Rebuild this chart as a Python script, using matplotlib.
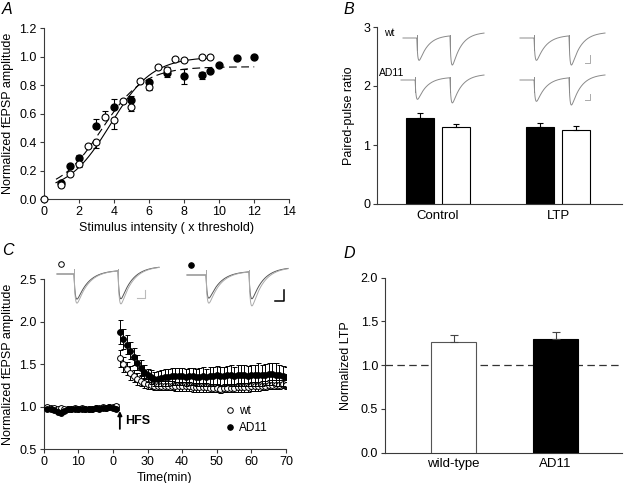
import numpy as np
import matplotlib
matplotlib.use("Agg")
import matplotlib.pyplot as plt

plt.rcParams['font.family'] = ['Liberation Sans', 'DejaVu Sans']

# ---------------- Panel A data ----------------
wt_int = [0, 1, 1.5, 2, 2.5, 3, 3.5, 4, 4.5, 5, 5.5, 6, 6.5, 7, 7.5, 8, 9, 9.5]
wt_amp = [0.0, 0.10, 0.18, 0.245, 0.375, 0.40, 0.575, 0.555, 0.69, 0.648, 0.828, 0.786,
          0.93, 0.905, 0.982, 0.975, 1.0, 1.0]
wt_amp_lo = [0, 0.01, 0, 0.02, 0, 0.04, 0, 0.06, 0, 0.03, 0, 0.02, 0, 0, 0, 0, 0, 0]
wt_amp_hi = [0, 0, 0, 0, 0, 0, 0.045, 0, 0, 0, 0.015, 0, 0, 0.02, 0, 0, 0, 0]
ad_int = [1, 1.5, 2, 3, 4, 5, 6, 7, 8, 9, 9.5, 10, 11, 12]
ad_amp = [0.115, 0.235, 0.288, 0.512, 0.650, 0.695, 0.82, 0.885, 0.862, 0.872, 0.90, 0.94, 0.995, 1.0]
ad_amp_lo = [0, 0, 0, 0, 0, 0, 0, 0.03, 0.05, 0.025, 0, 0, 0, 0]
ad_amp_hi = [0, 0, 0.02, 0.05, 0.055, 0.03, 0.01, 0, 0.05, 0.02, 0, 0, 0, 0]
# Boltzmann fits: bottom, top, midpoint, slope, x-start, x-end
wt_fit = [0.05, 1.00, 3.8, 1.2, 0.7, 9.5]
ad_fit = [0.05, 0.93, 3.3, 1.2, 0.7, 12.0]

# ---------------- Panel B data ----------------
ppr_groups = ['Control', 'LTP']
ppr_ad11 = [1.45, 1.31]
ppr_ad11_err = [0.09, 0.07]
ppr_wt = [1.31, 1.26]
ppr_wt_err = [0.05, 0.06]

# ---------------- Panel C data ----------------
t_base = list(range(1, 22))
wt_base = [1.00, 0.99, 0.99, 0.98, 0.99, 0.98, 0.98, 0.98, 0.99, 0.98, 0.99, 0.98, 0.97, 0.98,
           0.99, 0.99, 1.00, 0.99, 1.00, 1.00, 1.01]
wt_base_err = [0.02, 0.02, 0.02, 0.02, 0.02, 0.02, 0.02, 0.02, 0.02, 0.02, 0.02, 0.02, 0.02, 0.02,
               0.02, 0.02, 0.02, 0.02, 0.02, 0.02, 0.02]
ad_base = [0.98, 0.97, 0.96, 0.94, 0.93, 0.95, 0.97, 0.97, 0.98, 0.98, 0.97, 0.98, 0.98, 0.98,
           0.99, 0.98, 0.99, 0.99, 1.00, 0.99, 0.98]
ad_base_err = [0.02, 0.02, 0.02, 0.02, 0.02, 0.02, 0.02, 0.02, 0.02, 0.02, 0.02, 0.02, 0.02, 0.02,
               0.02, 0.02, 0.02, 0.02, 0.02, 0.02, 0.02]
t_post = list(range(22, 71))
wt_post = [1.57, 1.50, 1.45, 1.40, 1.36, 1.33, 1.30, 1.28, 1.27, 1.26,
           1.25, 1.25, 1.25, 1.25, 1.25, 1.25, 1.24, 1.24, 1.24, 1.24,
           1.24, 1.23, 1.23, 1.23, 1.23, 1.23, 1.22, 1.22, 1.22, 1.21,
           1.22, 1.22, 1.22, 1.22, 1.23, 1.23, 1.23, 1.23, 1.24, 1.24,
           1.24, 1.25, 1.25, 1.26, 1.26, 1.26, 1.26, 1.27, 1.26]
wt_post_err = [0.10, 0.09, 0.08, 0.08, 0.07, 0.07, 0.06, 0.06, 0.06, 0.05,
               0.05, 0.05, 0.05, 0.05, 0.05, 0.05, 0.05, 0.05, 0.05, 0.05,
               0.05, 0.05, 0.05, 0.05, 0.05, 0.05, 0.05, 0.05, 0.05, 0.05,
               0.05, 0.05, 0.05, 0.05, 0.05, 0.05, 0.05, 0.05, 0.05, 0.05,
               0.05, 0.05, 0.05, 0.05, 0.05, 0.05, 0.05, 0.05, 0.05]
ad_post = [1.88, 1.80, 1.73, 1.66, 1.59, 1.52, 1.46, 1.41, 1.37, 1.35,
           1.33, 1.33, 1.34, 1.35, 1.35, 1.36, 1.36, 1.36, 1.36, 1.35,
           1.36, 1.36, 1.35, 1.35, 1.36, 1.35, 1.36, 1.36, 1.37, 1.36,
           1.36, 1.37, 1.37, 1.36, 1.37, 1.37, 1.37, 1.36, 1.37, 1.37,
           1.38, 1.37, 1.38, 1.39, 1.39, 1.38, 1.37, 1.36, 1.35]
ad_post_err = [0.14, 0.12, 0.11, 0.10, 0.10, 0.09, 0.09, 0.08, 0.08, 0.08,
               0.08, 0.09, 0.09, 0.10, 0.10, 0.10, 0.10, 0.10, 0.10, 0.10,
               0.10, 0.10, 0.10, 0.11, 0.11, 0.10, 0.11, 0.11, 0.11, 0.11,
               0.11, 0.11, 0.12, 0.11, 0.12, 0.12, 0.12, 0.12, 0.12, 0.12,
               0.13, 0.12, 0.12, 0.13, 0.13, 0.13, 0.12, 0.12, 0.12]
c_xticklabels = ['0', '10', '0', '30', '40', '50', '60', '70']

# ---------------- Panel D data ----------------
ltp_groups = ['wild-type', 'AD11']
ltp_vals = [1.27, 1.30]
ltp_err = [0.07, 0.085]

# trace illustration amplitudes (px): [first, second] dips
trB_amps = {'wt_ctrl': [23, 30], 'wt_ltp': [23, 30], 'ad_ctrl': [20, 26], 'ad_ltp': [22, 28]}
trC_amps = {'wt_pre': [26, 29], 'wt_post': [30, 34], 'ad_pre': [24, 28], 'ad_post': [29, 35]}

W, H = 624, 483
fig = plt.figure(figsize=(W / 100, H / 100), dpi=100)
AX = '#3a3a3a'
TICK = 9
LAB = 9


def px_axes(l, t, r, b):
    return fig.add_axes([l / W, 1 - b / H, (r - l) / W, (b - t) / H])


def style(ax):
    for s in ['top', 'right']:
        ax.spines[s].set_visible(False)
    for s in ['left', 'bottom']:
        ax.spines[s].set_color(AX)
        ax.spines[s].set_linewidth(0.8)
    ax.tick_params(direction='out', length=3, width=0.8, color=AX, labelsize=TICK, pad=2)


# ---------------- Panel A ----------------
axA = px_axes(43.7, 28.3, 289.3, 199.3)
style(axA)
for fit, ls in [(wt_fit, '-'), (ad_fit, (0, (7, 4)))]:
    xx = np.linspace(fit[4], fit[5], 200)
    yy = fit[1] + (fit[0] - fit[1]) / (1 + np.exp((xx - fit[2]) / fit[3]))
    axA.plot(xx, yy, color='black', lw=0.8, ls=ls, zorder=2)
axA.errorbar(ad_int, ad_amp, yerr=[ad_amp_lo, ad_amp_hi], fmt='o', ms=5, mfc='black', mec='black',
             ecolor='black', elinewidth=0.8, capsize=2.5, capthick=0.8, zorder=3, clip_on=False)
axA.errorbar(wt_int, wt_amp, yerr=[wt_amp_lo, wt_amp_hi], fmt='o', ms=5, mfc='white', mec='black',
             mew=0.8, ecolor='black', elinewidth=0.8, capsize=2.5, capthick=0.8, zorder=4, clip_on=False)
axA.set_xlim(0, 14)
axA.set_ylim(0, 1.2)
axA.set_xticks(range(0, 15, 2))
axA.set_yticks(np.arange(0, 1.21, 0.2))
axA.set_yticklabels([f'{v:.1f}' for v in np.arange(0, 1.21, 0.2)])
axA.set_xlabel('Stimulus intensity ( x threshold)', fontsize=LAB, labelpad=3)
axA.set_ylabel('Normalized fEPSP amplitude', fontsize=LAB, labelpad=4)

# ---------------- Panel B ----------------
axB = px_axes(377, 27, 622, 204)
style(axB)
pos = np.arange(len(ppr_groups))
off, bw = 0.15, 0.233
axB.bar(pos - off, ppr_ad11, bw, color='black', edgecolor='black', lw=0.8,
        yerr=[[0, 0], ppr_ad11_err], error_kw=dict(ecolor='black', elinewidth=0.8, capsize=2.5, capthick=0.8))
axB.bar(pos + off, ppr_wt, bw, color='white', edgecolor='black', lw=0.8,
        yerr=[[0, 0], ppr_wt_err], error_kw=dict(ecolor='black', elinewidth=0.8, capsize=2.5, capthick=0.8))
axB.set_xlim(-0.508, 1.533)
axB.set_ylim(0, 3)
axB.set_yticks([0, 1, 2, 3])
axB.set_xticks(pos)
axB.set_xticklabels(ppr_groups, fontsize=LAB + 0.5)
axB.tick_params(axis='x', length=0, pad=4)
axB.set_ylabel('Paired-pulse ratio', fontsize=LAB, labelpad=6)

# ---------------- Panel C ----------------
axC = px_axes(43.7, 279.3, 286, 449.3)
style(axC)
ekw = dict(elinewidth=0.7, capsize=1.8, capthick=0.7, ecolor='black')
axC.errorbar(t_base, wt_base, yerr=wt_base_err, fmt='o', ms=4.2, mfc='white', mec='black', mew=0.7, zorder=3, **ekw)
axC.errorbar(t_post, wt_post, yerr=wt_post_err, fmt='o', ms=4.2, mfc='white', mec='black', mew=0.7, zorder=3, **ekw)
axC.errorbar(t_base, ad_base, yerr=ad_base_err, fmt='o', ms=4.2, mfc='black', mec='black', mew=0.7, zorder=4, **ekw)
axC.errorbar(t_post, ad_post, yerr=ad_post_err, fmt='o', ms=4.2, mfc='black', mec='black', mew=0.7, zorder=4, **ekw)
axC.set_xlim(0, 70)
axC.set_ylim(0.5, 2.5)
axC.set_xticks(range(0, 71, 10))
axC.set_xticklabels(c_xticklabels)
axC.set_yticks([0.5, 1.0, 1.5, 2.0, 2.5])
axC.set_yticklabels(['0.5', '1.0', '1.5', '2.0', '2.5'])
axC.set_xlabel('Time(min)', fontsize=LAB, labelpad=3)
axC.set_ylabel('Normalized fEPSP amplitude', fontsize=LAB, labelpad=4)
axC.annotate('', xy=(22, 0.95), xytext=(22, 0.74),
             arrowprops=dict(arrowstyle='-|>', color='black', lw=1.3, mutation_scale=6, shrinkA=0, shrinkB=0))
axC.text(23.6, 0.835, 'HFS', fontsize=9, fontweight='bold', va='center', ha='left')
h1, = axC.plot([], [], 'o', ms=4, mfc='white', mec='black', mew=0.7)
h2, = axC.plot([], [], 'o', ms=4, mfc='black', mec='black', mew=0.7)
axC.legend([h1, h2], ['wt', 'AD11'], loc='upper left', bbox_to_anchor=(0.755, 0.262), frameon=False,
           fontsize=8.5, handlelength=0.6, handletextpad=0.45, labelspacing=0.45, borderpad=0,
           borderaxespad=0)

# ---------------- Panel D ----------------
axD = px_axes(385, 277.7, 622, 452.7)
style(axD)
posD = np.arange(len(ltp_groups))
axD.bar(posD, ltp_vals, 0.44, color=['white', 'black'], edgecolor=['#555555', 'black'], lw=0.8,
        yerr=[[0, 0], ltp_err], error_kw=dict(ecolor='#444444', elinewidth=0.8, capsize=3, capthick=0.8), zorder=3)
axD.axhline(1.0, color='#333333', lw=0.9, ls=(0, (6, 3.5)), zorder=2)
axD.set_xlim(-0.672, 1.652)
axD.set_ylim(0, 2.0)
axD.set_yticks([0, 0.5, 1.0, 1.5, 2.0])
axD.set_yticklabels(['0.0', '0.5', '1.0', '1.5', '2.0'])
axD.set_xticks(posD)
axD.set_xticklabels(ltp_groups, fontsize=LAB + 0.5)
axD.tick_params(axis='x', length=0, pad=4)
axD.set_ylabel('Normalized LTP', fontsize=LAB, labelpad=6)

# ---------------- trace illustrations (pixel overlay) ----------------
ov = fig.add_axes([0, 0, 1, 1])
ov.set_xlim(0, W)
ov.set_ylim(H, 0)
ov.axis('off')


def trace(x0, x1, ybase, stims, amps, color, lw=0.7, rebound=3.0, art=(3, 12)):
    u = np.linspace(0, 1, 800)
    y = np.full_like(u, ybase, dtype=float)
    td, tr = 0.11, 0.012
    tp = td * tr / (td - tr) * np.log(td / tr)
    gmax = np.exp(-tp / td) - np.exp(-tp / tr)
    for s, a in zip(stims, amps):
        d = np.clip(u - s, 0, None)
        g = (np.exp(-d / td) - np.exp(-d / tr)) / gmax
        y += a * g * (u > s)
        y -= rebound * (1 - np.exp(-d / 0.12)) * (u > s)
    xs = x0 + u * (x1 - x0)
    ov.plot(xs, y, color=color, lw=lw)
    for s in stims:
        xa = x0 + s * (x1 - x0)
        ov.plot([xa, xa], [ybase - art[0], ybase + art[1]], color=color, lw=lw)


gB = '#8a8a8a'
trace(403, 484, 38, [0.17, 0.58], trB_amps['wt_ctrl'], gB)
trace(520, 605, 38, [0.165, 0.576], trB_amps['wt_ltp'], gB)
trace(401, 484, 80, [0.17, 0.59], trB_amps['ad_ctrl'], gB)
trace(520, 605, 80, [0.165, 0.576], trB_amps['ad_ltp'], gB)
for yb, yt in [(63, 55), (100, 94)]:
    ov.plot([585, 590, 590], [yb, yb, yt], color='#aaaaaa', lw=0.7)
fig.text(384 / W, 1 - 33 / H, 'wt', fontsize=7.5, va='center', ha='left')
fig.text(379 / W, 1 - 73 / H, 'AD11', fontsize=7.5, va='center', ha='left')

trace(57, 159, 274, [0.167, 0.598], trC_amps['wt_pre'], '#555555', rebound=4, art=(5, 16))
trace(57, 159, 274, [0.167, 0.598], trC_amps['wt_post'], '#aaaaaa', rebound=4, art=(5, 16))
trace(187, 288, 275, [0.188, 0.614], trC_amps['ad_pre'], '#555555', rebound=4, art=(5, 16))
trace(187, 288, 275, [0.188, 0.614], trC_amps['ad_post'], '#aaaaaa', rebound=4, art=(5, 16))
ov.plot([137, 145, 145], [298, 298, 290], color='#bbbbbb', lw=0.8)
ov.plot([275, 284, 284], [301, 301, 290], color='black', lw=1.1)
ov.plot([61], [264], 'o', ms=4, mfc='white', mec='black', mew=0.7)
ov.plot([191], [265], 'o', ms=4, mfc='black', mec='black', mew=0.7)

# panel letters
for lab, (x, y) in {'A': (2, 9), 'B': (344, 10), 'C': (2, 251), 'D': (344, 253)}.items():
    fig.text(x / W, 1 - y / H, lab, fontsize=11.5, fontstyle='italic', va='center', ha='left')

fig.savefig('out.png', dpi=100)
